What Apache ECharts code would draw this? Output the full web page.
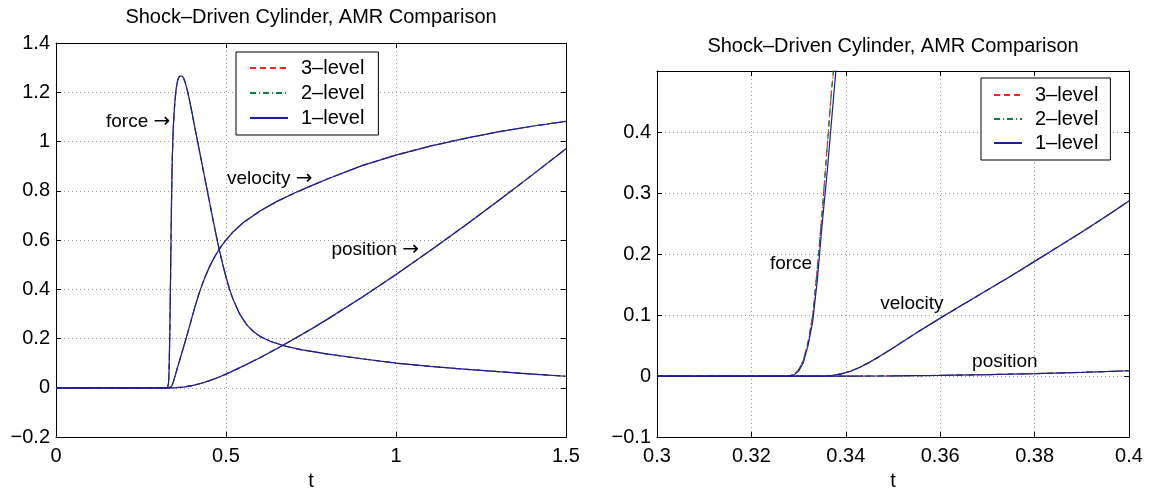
<!DOCTYPE html>
<html>
<head>
<meta charset="utf-8">
<script src="https://cdn.jsdelivr.net/npm/echarts@6/dist/echarts.min.js"></script>
<style>
  html, body { margin: 0; padding: 0; background: #fff; }
  #chart { width: 1152px; height: 496px; }
</style>
</head>
<body>
<div id="chart"></div>
<script>
// ---- data: [t, value] ----
var titleText = 'Shock\u2013Driven Cylinder, AMR Comparison'
var levelNames = ['3\u2013level', '2\u2013level', '1\u2013level']

// left panel, full run
var leftForce = [[0, 0], [0.328, 0], [0.33, 0.005], [0.331, 0.02], [0.332, 0.05], [0.333, 0.1], [0.334, 0.17],
  [0.335, 0.25], [0.336, 0.35], [0.337, 0.46], [0.338, 0.57], [0.34, 0.78], [0.342, 0.93], [0.345, 1.06],
  [0.349, 1.15], [0.353, 1.21], [0.358, 1.25], [0.363, 1.265], [0.368, 1.27], [0.372, 1.265], [0.376, 1.255],
  [0.38, 1.24], [0.385, 1.215], [0.39, 1.185], [0.395, 1.152], [0.4, 1.117], [0.41, 1.045], [0.42, 0.975],
  [0.43, 0.905], [0.44, 0.835], [0.45, 0.765], [0.46, 0.695], [0.47, 0.627], [0.48, 0.562], [0.49, 0.503],
  [0.5, 0.45], [0.51, 0.402], [0.52, 0.362], [0.54, 0.3], [0.56, 0.258], [0.58, 0.229], [0.6, 0.209],
  [0.63, 0.189], [0.67, 0.171], [0.72, 0.155], [0.8, 0.137], [0.9, 0.118], [1.0, 0.1], [1.1, 0.087],
  [1.2, 0.076], [1.3, 0.066], [1.4, 0.056], [1.5, 0.047]]
var leftVelocity = [[0, 0], [0.333, 0], [0.337, 0.001], [0.34, 0.006], [0.345, 0.024], [0.35, 0.047],
  [0.36, 0.095], [0.37, 0.141], [0.38, 0.188], [0.39, 0.236], [0.4, 0.287], [0.41, 0.335], [0.42, 0.38],
  [0.43, 0.42], [0.44, 0.455], [0.45, 0.487], [0.46, 0.515], [0.47, 0.54], [0.48, 0.562], [0.49, 0.582],
  [0.5, 0.6], [0.52, 0.632], [0.55, 0.67], [0.6, 0.718], [0.65, 0.757], [0.7, 0.79], [0.75, 0.82],
  [0.8, 0.849], [0.9, 0.902], [1.0, 0.945], [1.1, 0.981], [1.2, 1.012], [1.3, 1.039], [1.4, 1.062], [1.5, 1.082]]
var leftPosition = [[0, 0], [0.335, 0], [0.35, 0.0004], [0.375, 0.003], [0.4, 0.009], [0.425, 0.0176],
  [0.45, 0.0281], [0.475, 0.041], [0.5, 0.0556], [0.55, 0.088], [0.6, 0.1225], [0.65, 0.1594], [0.7, 0.198],
  [0.75, 0.2383], [0.8, 0.28], [0.9, 0.3676], [1.0, 0.46], [1.1, 0.5563], [1.2, 0.656], [1.3, 0.7585],
  [1.4, 0.8636], [1.5, 0.9708]]

// right panel, close-up of the onset
var rightForceFine = [[0.3, 0], [0.328, 0], [0.329, 0.003], [0.33, 0.01], [0.331, 0.026], [0.332, 0.055],
  [0.333, 0.1], [0.334, 0.18], [0.335, 0.27], [0.336, 0.37], [0.337, 0.47], [0.3378, 0.53]]
var rightForceCoarse = [[0.3, 0], [0.328, 0], [0.329, 0.002], [0.33, 0.008], [0.331, 0.022], [0.332, 0.05],
  [0.333, 0.09], [0.334, 0.16], [0.335, 0.25], [0.336, 0.33], [0.337, 0.42], [0.338, 0.51]]
var rightVelocity = [[0.3, 0], [0.335, 0], [0.337, 0.0008], [0.339, 0.0035], [0.341, 0.008], [0.343, 0.0145],
  [0.345, 0.0225], [0.347, 0.0315], [0.35, 0.046], [0.355, 0.071], [0.36, 0.095], [0.365, 0.118], [0.37, 0.141],
  [0.375, 0.164], [0.38, 0.188], [0.385, 0.212], [0.39, 0.236], [0.395, 0.261], [0.4, 0.287]]
var rightPosition = [[0.3, 0], [0.335, 0], [0.34, 0.00002], [0.345, 0.0001], [0.35, 0.0003], [0.355, 0.0007],
  [0.36, 0.0011], [0.37, 0.0023], [0.38, 0.004], [0.39, 0.0061], [0.4, 0.0087]]

// text notes: [t, value, text, arrow, align]
var leftNotes = [[0.336, 1.08, 'force', true, 'right'], [0.503, 0.85, 'velocity', true, 'left'],
  [0.81, 0.56, 'position', true, 'left']]
var rightNotes = [[0.3284, 0.184, 'force', false, 'center'], [0.354, 0.118, 'velocity', false, 'center'],
  [0.3737, 0.024, 'position', false, 'center']]

var FONT = '"Liberation Sans", Arial, Helvetica, sans-serif'
var levelStyles = [
  { color: '#ff2020', width: 1.2, type: [6, 4] },
  { color: '#0a8040', width: 1.2, type: [6, 3, 1, 3] },
  { color: '#1c1ca0', width: 1.2, type: 'solid' }
]

function fmt (v) {
  return String(+v.toFixed(3)).replace('-', '\u2212')
}

function xAxes (grid, min, max, step, nameGap) {
  return [{
    type: 'value', gridIndex: grid, position: 'bottom', min: min, max: max, interval: step,
    name: 't', nameLocation: 'middle', nameGap: nameGap,
    nameTextStyle: { fontFamily: FONT, fontSize: 20, color: '#000' },
    axisLine: { onZero: false, lineStyle: { color: '#000', width: 1 } },
    axisTick: { inside: true, length: 5, lineStyle: { color: '#000' } },
    axisLabel: { fontFamily: FONT, fontSize: 20, color: '#000', margin: 9, formatter: fmt },
    splitLine: { show: true, lineStyle: { color: '#999', type: [1, 3] } }
  }, {
    type: 'value', gridIndex: grid, position: 'top', min: min, max: max, interval: step,
    axisLine: { onZero: false, lineStyle: { color: '#000', width: 1 } },
    axisTick: { inside: true, length: 5, lineStyle: { color: '#000' } },
    axisLabel: { show: false }, splitLine: { show: false }
  }]
}

function yAxes (grid, min, max, step, hideTop) {
  return [{
    type: 'value', gridIndex: grid, position: 'left', min: min, max: max, interval: step,
    axisLine: { show: true, onZero: false, lineStyle: { color: '#000', width: 1 } },
    axisTick: { show: true, inside: true, length: 5, lineStyle: { color: '#000' } },
    axisLabel: {
      fontFamily: FONT, fontSize: 20, color: '#000', margin: 6,
      formatter: function (v) { return (hideTop && v > max - step / 2) ? '' : fmt(v) }
    },
    splitLine: { show: true, lineStyle: { color: '#999', type: [1, 3] } }
  }, {
    type: 'value', gridIndex: grid, position: 'right', min: min, max: max, interval: step,
    axisLine: { show: true, onZero: false, lineStyle: { color: '#000', width: 1 } },
    axisTick: { show: true, inside: true, length: 5, lineStyle: { color: '#000' } },
    axisLabel: { show: false }, splitLine: { show: false }
  }]
}

function curve (name, style, data, xi, yi) {
  return {
    name: name, type: 'line', xAxisIndex: xi, yAxisIndex: yi, data: data,
    symbol: 'none', showSymbol: false, smooth: false, clip: true,
    lineStyle: style, itemStyle: { color: style.color }, animation: false, z: 3
  }
}

function notes (list, xi, yi) {
  return {
    type: 'scatter', xAxisIndex: xi, yAxisIndex: yi, symbolSize: 0, silent: true, z: 5,
    itemStyle: { opacity: 1 },
    data: list.map(function (n) {
      return {
        value: [n[0], n[1]],
        label: {
          show: true, position: 'inside', align: n[4], verticalAlign: 'middle', opacity: 1,
          color: '#000', textBorderWidth: 0, textShadowBlur: 0,
          formatter: n[3] ? '{t|' + n[2] + ' }{a|\u2192}' : '{t|' + n[2] + '}',
          rich: {
            t: { fontFamily: FONT, fontSize: 19, color: '#000', textBorderWidth: 0 },
            a: { fontFamily: '"DejaVu Sans", sans-serif', fontSize: 20, color: '#000', textBorderWidth: 0 }
          }
        }
      }
    })
  }
}

var series = []
var leftSets = [[leftForce, leftVelocity, leftPosition], [leftForce, leftVelocity, leftPosition],
  [leftForce, leftVelocity, leftPosition]]
var rightSets = [[rightForceFine, rightVelocity, rightPosition], [rightForceFine, rightVelocity, rightPosition],
  [rightForceCoarse, rightVelocity, rightPosition]]
levelNames.forEach(function (name, i) {
  leftSets[i].forEach(function (d) { series.push(curve(name, levelStyles[i], d, 0, 0)) })
  rightSets[i].forEach(function (d) { series.push(curve(name, levelStyles[i], d, 2, 2)) })
})
series.push(notes(leftNotes, 0, 0))
series.push(notes(rightNotes, 2, 2))

function legendBox (left, top, pad, iconW, gap) {
  return {
    data: levelNames, orient: 'vertical', left: left, top: top, padding: pad,
    itemWidth: iconW, itemHeight: 14, itemGap: gap, selectedMode: false,
    itemStyle: { opacity: 0 },
    backgroundColor: '#fff', borderColor: '#000', borderWidth: 1, borderRadius: 0,
    textStyle: { fontFamily: FONT, fontSize: 20, color: '#000', padding: [0, 0, 0, 8], lineHeight: 20 }
  }
}

var chart = echarts.init(document.getElementById('chart'), null, { renderer: 'canvas' })
chart.setOption({
  animation: false,
  backgroundColor: '#fff',
  title: [
    { text: titleText, left: 311, top: 7, textAlign: 'center', padding: 0,
      textStyle: { fontFamily: FONT, fontSize: 20, fontWeight: 'normal', color: '#000' } },
    { text: titleText, left: 893, top: 36, textAlign: 'center', padding: 0,
      textStyle: { fontFamily: FONT, fontSize: 20, fontWeight: 'normal', color: '#000' } }
  ],
  legend: [
    legendBox(236, 52, [6, 14, 7, 13], 38, 5),
    legendBox(981, 78, [7, 12, 7, 12], 28, 4)
  ],
  grid: [
    { left: 56, right: 586, top: 43, bottom: 52 },
    { left: 657, right: 23, top: 71, bottom: 53 }
  ],
  xAxis: xAxes(0, 0, 1.5, 0.5, 32).concat(xAxes(1, 0.3, 0.4, 0.02, 28)),
  yAxis: yAxes(0, -0.2, 1.4, 0.2, false).concat(yAxes(1, -0.1, 0.5, 0.1, true)),
  series: series
})
</script>
</body>
</html>
